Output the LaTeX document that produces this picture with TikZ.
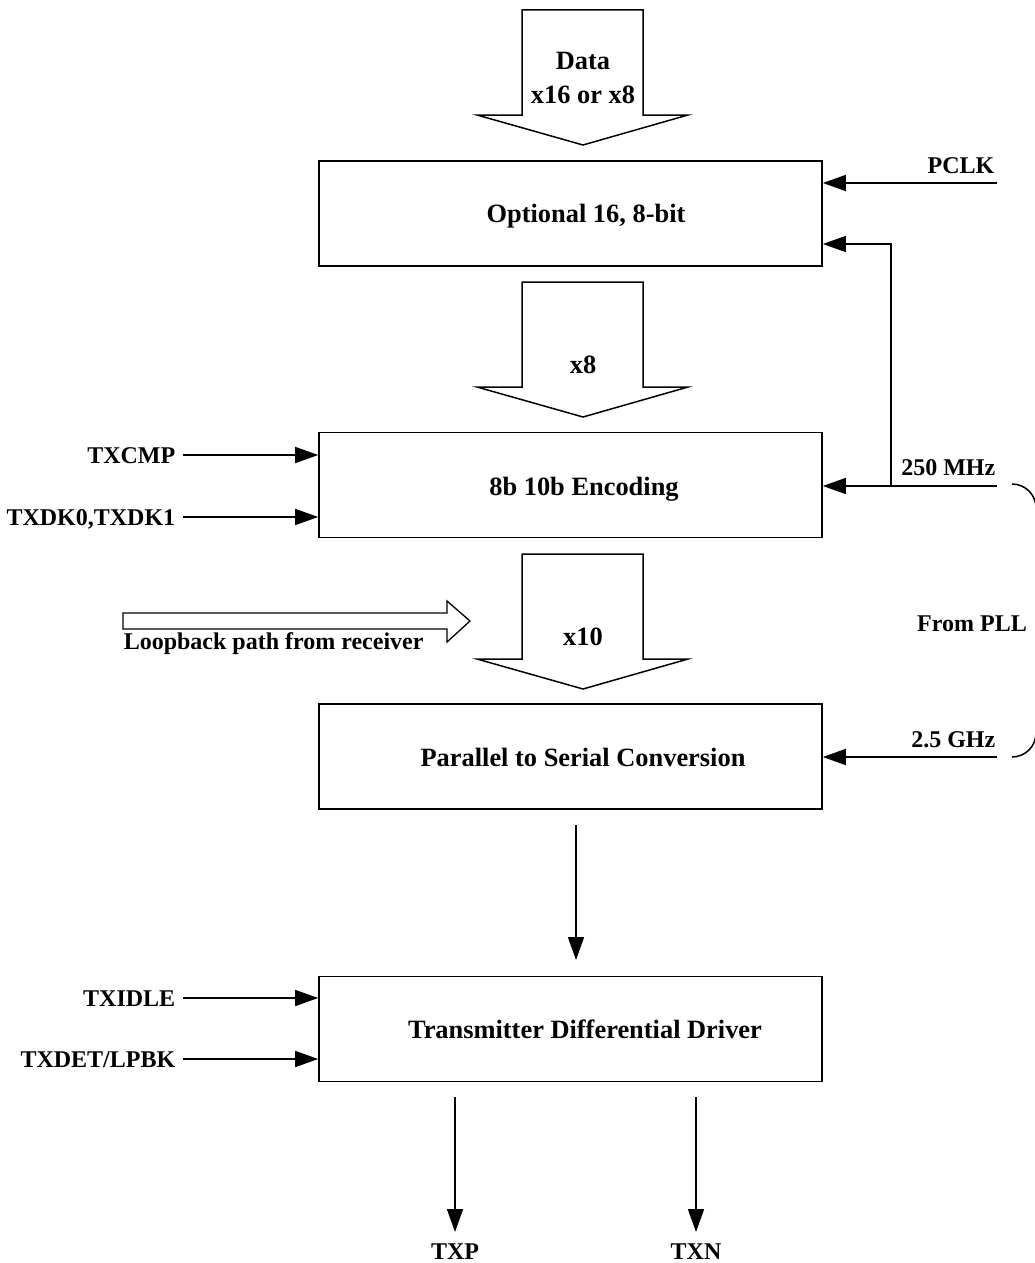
\documentclass[tikz,border=0pt]{standalone}
\usepackage{fontspec}
\setmainfont{Liberation Serif}
\usetikzlibrary{arrows.meta}
\begin{document}
\begin{tikzpicture}[x=1pt,y=-1pt,line width=1.5pt,
  box/.style={draw,line width=1.6pt,minimum width=503pt,minimum height=105pt,inner sep=0pt},
  big/.style={font=\bfseries\fontsize{26.4}{30}\selectfont,inner sep=0pt},
  lab/.style={font=\bfseries\fontsize{24}{28}\selectfont,inner sep=0pt},
  sig/.style={-{Triangle[length=23pt,width=16pt]}},
  barrow/.style={draw,line width=1.5pt,fill=white,line join=miter}]
\useasboundingbox (0,0) rectangle (1035,1263);

% boxes
\node[box] (opt) at (570.5,213.5) {};
\node[box] (enc) at (570.5,485) {};
\node[box] (ps)  at (570.5,756.5) {};
\node[box] (drv) at (570.5,1029) {};
\node[big,anchor=base] (optT) at (586,222) {Optional 16, 8-bit};
\node[big,anchor=base] (encT) at (584,495) {8b 10b Encoding};
\node[big,anchor=base] (psT)  at (583,766) {Parallel to Serial Conversion};
\node[big,anchor=base] (drvT) at (585,1038) {Transmitter Differential Driver};

% block arrows
\draw[barrow] (522,10) -- (643,10) -- (643,115) -- (688,115) -- (583,145) -- (477,115) -- (522,115) -- cycle;
\draw[barrow] (522,282) -- (643,282) -- (643,387) -- (688,387) -- (583,417) -- (477,387) -- (522,387) -- cycle;
\draw[barrow] (522,554) -- (643,554) -- (643,659) -- (688,659) -- (583,689) -- (477,659) -- (522,659) -- cycle;
\node[big,anchor=base] (dataT) at (583,70) {Data};
\node[big,anchor=base] (widthT) at (583,103) {x16 or x8};
\node[big,anchor=base] (x8T) at (583,373) {x8};
\node[big,anchor=base] (x10T) at (583,645) {x10};

% loopback arrow
\draw[barrow,line width=1.3pt] (123,613) -- (447,613) -- (447,601) -- (470,621) -- (447,642) -- (447,629) -- (123,629) -- cycle;
\node[lab,anchor=base west] (loopT) at (123,649) {Loopback path from receiver};

% left signals
\node[lab,anchor=base east] (txcmp) at (176,463) {TXCMP};
\node[lab,anchor=base east] (txdk) at (176,525) {TXDK0,TXDK1};
\node[lab,anchor=base east] (txidle) at (176,1006) {TXIDLE};
\node[lab,anchor=base east] (txdet) at (176,1067) {TXDET/LPBK};
\coordinate (s1) at (183,455);
\coordinate (s2) at (183,517);
\coordinate (s3) at (183,998);
\coordinate (s4) at (183,1059);
\draw[sig] (s1) -- (s1 -| enc.west);
\draw[sig] (s2) -- (s2 -| enc.west);
\draw[sig] (s3) -- (s3 -| drv.west);
\draw[sig] (s4) -- (s4 -| drv.west);

% right signals
\node[lab,anchor=base east] (pclk) at (995,173) {PCLK};
\node[lab,anchor=base east] (f250) at (996,475) {250 MHz};
\node[lab,anchor=base east] (f25) at (996,747) {2.5 GHz};
\node[lab,anchor=base] (pll) at (972,631) {From PLL};
\coordinate (r1) at (997,183);
\coordinate (r2) at (997,486);
\coordinate (r3) at (997,757);
\coordinate (tap) at (891,486);
\coordinate (fb) at (891,244);
\draw[sig] (r1) -- (r1 -| opt.east);
\draw[sig] (r2) -- (r2 -| enc.east);
\draw[sig] (tap) -- (fb) -- (fb -| opt.east);
\draw[sig] (r3) -- (r3 -| ps.east);
\begin{scope}
\clip (0,0) rectangle (1035,1263);
\draw (1012,484) arc[start angle=-90,end angle=0,radius=24];
\draw (1012,757) arc[start angle=90,end angle=0,radius=24];
\end{scope}

% vertical arrows
\coordinate (m1) at (576,825);
\coordinate (m2) at (576,960);
\draw[sig] (m1) -- (m2);
\node[lab,anchor=base] (txp) at (455,1259) {TXP};
\node[lab,anchor=base] (txn) at (696,1259) {TXN};
\coordinate (p1) at (455,1097);
\coordinate (n1) at (696,1097);
\draw[sig] (p1) -- (p1 |- 0,1232);
\draw[sig] (n1) -- (n1 |- 0,1232);
\end{tikzpicture}
\end{document}
